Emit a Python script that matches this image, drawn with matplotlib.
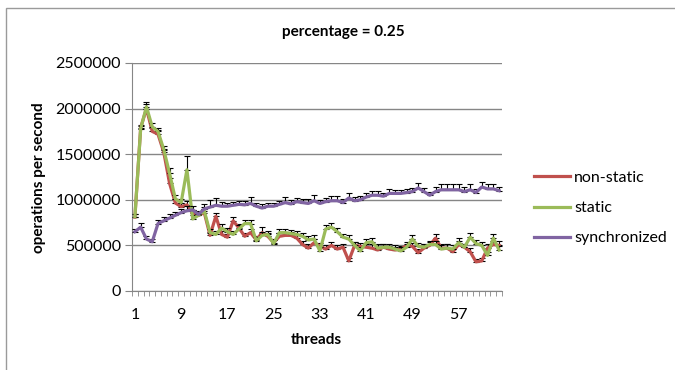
import numpy as np
import matplotlib
matplotlib.use("Agg")
import matplotlib.pyplot as plt
from matplotlib.patches import Rectangle

plt.rcParams['font.family'] = ['Lato', 'DejaVu Sans']

# --- data ---
threads = np.arange(1, 65)

non_static = [810000, 1790000, 2000000, 1750000, 1720000, 1520000, 1180000, 965000,
              925000, 945000, 850000, 830000, 860000, 610000, 820000, 620000,
              590000, 770000, 690000, 600000, 640000, 560000, 640000, 600000,
              530000, 600000, 610000, 610000, 580000, 510000, 470000, 530000,
              490000, 460000, 500000, 460000, 480000, 330000, 500000, 490000,
              480000, 470000, 450000, 480000, 460000, 450000, 460000, 500000,
              490000, 420000, 470000, 500000, 580000, 470000, 470000, 430000,
              510000, 480000, 430000, 320000, 330000, 470000, 510000, 500000]

static = [815000, 1780000, 2020000, 1800000, 1750000, 1550000, 1290000, 1010000,
          970000, 1330000, 790000, 830000, 880000, 640000, 620000, 690000,
          650000, 620000, 680000, 740000, 740000, 550000, 610000, 620000,
          520000, 640000, 640000, 630000, 620000, 600000, 560000, 570000,
          440000, 680000, 700000, 650000, 590000, 570000, 500000, 440000,
          530000, 540000, 470000, 480000, 480000, 460000, 440000, 480000,
          570000, 490000, 480000, 510000, 510000, 460000, 470000, 460000,
          530000, 480000, 590000, 520000, 500000, 390000, 580000, 450000]

synchronized = [650000, 700000, 570000, 540000, 740000, 770000, 800000, 830000,
                860000, 880000, 890000, 840000, 900000, 920000, 940000, 930000,
                930000, 940000, 950000, 945000, 960000, 930000, 910000, 930000,
                930000, 950000, 970000, 955000, 980000, 970000, 960000, 990000,
                960000, 980000, 990000, 990000, 970000, 1020000, 990000, 1000000,
                1030000, 1050000, 1050000, 1040000, 1070000, 1070000, 1070000, 1080000,
                1090000, 1130000, 1090000, 1050000, 1090000, 1110000, 1110000, 1110000,
                1110000, 1090000, 1110000, 1080000, 1140000, 1120000, 1120000, 1100000]

err_non_static = [30000, 30000, 50000, 40000, 40000, 40000, 60000, 40000,
                  40000, 40000, 40000, 40000, 40000, 40000, 40000, 40000,
                  40000, 40000, 40000, 40000, 40000, 40000, 60000, 40000,
                  40000, 40000, 40000, 40000, 40000, 40000, 40000, 40000,
                  40000, 40000, 40000, 40000, 40000, 30000, 40000, 40000,
                  40000, 40000, 30000, 40000, 30000, 30000, 30000, 40000,
                  40000, 40000, 40000, 40000, 50000, 40000, 40000, 30000,
                  40000, 30000, 40000, 30000, 30000, 40000, 40000, 50000]

err_static = [30000, 30000, 50000, 40000, 40000, 40000, 60000, 40000,
              40000, 150000, 40000, 40000, 40000, 40000, 40000, 40000,
              40000, 40000, 40000, 40000, 40000, 40000, 40000, 40000,
              40000, 40000, 40000, 40000, 40000, 40000, 40000, 40000,
              40000, 40000, 50000, 40000, 40000, 40000, 40000, 40000,
              40000, 40000, 40000, 40000, 40000, 40000, 40000, 40000,
              40000, 40000, 40000, 40000, 40000, 40000, 40000, 40000,
              50000, 40000, 50000, 40000, 40000, 40000, 40000, 40000]

err_synchronized = [30000, 50000, 30000, 30000, 40000, 40000, 40000, 40000,
                    40000, 50000, 40000, 40000, 50000, 80000, 80000, 50000,
                    40000, 40000, 40000, 40000, 70000, 40000, 40000, 40000,
                    40000, 40000, 60000, 40000, 40000, 40000, 50000, 60000,
                    40000, 40000, 50000, 50000, 40000, 50000, 40000, 40000,
                    40000, 50000, 50000, 40000, 50000, 40000, 40000, 40000,
                    40000, 50000, 40000, 40000, 50000, 60000, 60000, 60000,
                    60000, 50000, 60000, 40000, 60000, 50000, 50000, 40000]

series = [("non-static", non_static, err_non_static, "#C0504D"),
          ("static", static, err_static, "#9BBB59"),
          ("synchronized", synchronized, err_synchronized, "#8064A2")]

fig = plt.figure(figsize=(6.75, 3.7), dpi=100)
ax = fig.add_axes([132/675, 1-291/370, 370/675, 228/370])

# chart area border
fig.patches.append(Rectangle((6/675, -0.1), 1.2, 0.1 + 1 - 8/370, transform=fig.transFigure,
                             fill=False, edgecolor="#9A9A9A", linewidth=1))

for i, (name, vals, err, col) in enumerate(series):
    vals = np.array(vals)
    err = np.array(err)
    ax.errorbar(threads, vals, yerr=[np.zeros_like(err), err], fmt="none",
                ecolor="black", elinewidth=0.8, capsize=2, capthick=0.8, zorder=2 + i)
    ax.plot(threads, vals, color=col, linewidth=2.3, label=name, zorder=3 + i,
            solid_joinstyle="round")

ax.set_xlim(0.5, 64.5)
ax.set_ylim(0, 2500000)
ax.set_yticks(np.arange(0, 2500001, 500000))
ax.set_yticklabels([str(v) for v in range(0, 2500001, 500000)])
ax.yaxis.grid(True, color="#868686", linewidth=1)
ax.set_axisbelow(True)

xt = list(range(1, 65, 8))
ax.set_xticks(xt)
ax.set_xticklabels([str(t) for t in xt])
ax.set_xticks(np.arange(0.5, 65, 1), minor=True)
ax.tick_params(axis="x", which="major", length=0, pad=12, labelsize=11.5)
ax.tick_params(axis="x", which="minor", length=3.5, color="#868686", direction="out")
ax.tick_params(axis="y", length=5, color="#868686", labelsize=11.5, pad=3)

for s in ["top", "right"]:
    ax.spines[s].set_visible(False)
ax.spines["left"].set_color("#868686")
ax.spines["bottom"].set_color("#868686")

fig.text(343/675, 1-32/370, "percentage = 0.25", ha="center", va="center",
         fontsize=11, fontweight="bold")
fig.text(316/675, 1-340/370, "threads", ha="center", va="center",
         fontsize=11, fontweight="bold")
fig.text(39/675, 1-178/370, "operations per second", ha="center", va="center",
         rotation=90, fontsize=11, fontweight="bold")

ax.legend(loc="center left", bbox_to_anchor=(520/675, 1-208/370),
          bbox_transform=fig.transFigure, frameon=False, fontsize=11.5,
          handlelength=2.2, handletextpad=0.3, labelspacing=1.0)

fig.savefig("out.png", dpi=100)
